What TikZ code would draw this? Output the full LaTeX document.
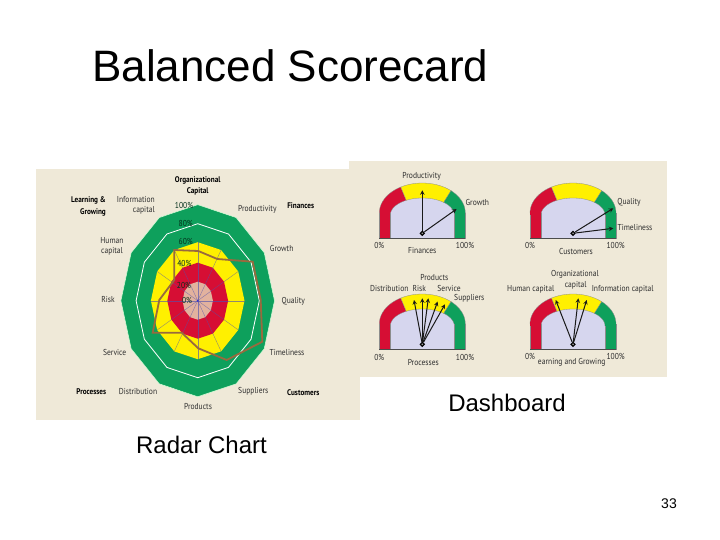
\documentclass[tikz,border=0pt]{standalone}
\usepackage{fontspec}
\setmainfont{Liberation Sans}
\newfontfamily\chartfont[FakeStretch=0.88]{PT Sans}
\usepackage{xcolor}
\usetikzlibrary{calc,positioning}

\definecolor{paper}{RGB}{239,233,216}
\definecolor{ringgreen}{RGB}{14,160,92}
\definecolor{ringyellow}{RGB}{255,240,0}
\definecolor{ringred}{RGB}{214,14,52}
\definecolor{ringpink}{RGB}{226,178,158}
\definecolor{dialblue}{RGB}{214,214,238}
\definecolor{scoreline}{RGB}{152,106,62}

% one ring of the radar, twelve corners
\newcommand{\radarring}[2]{\filldraw[#2] plot[samples at={0,30,...,330}] (\x:#1) -- cycle;}
% one stretch of a dial band
\newcommand{\dialband}[3]{\filldraw[#3, draw=black!45, line width=0.3pt] plot[domain=#1:#2,samples=14] ({43*cos(\x)},{-20.3-30*sin(\x)}) -- plot[domain=#2:#1,samples=14] ({32*cos(\x)},{-18.3-17*sin(\x)}) -- cycle;}

\begin{document}
\begin{tikzpicture}[>=stealth,x=1pt,y=-1pt]

    % Styles
    \tikzset{
        slidetext/.style={inner sep=0pt, font=\fontsize{24}{26}\selectfont},
        small/.style={inner sep=0pt, align=center, text=black!82, font=\chartfont\fontsize{8.6}{10}\selectfont},
        smallbold/.style={small, text=black, font=\chartfont\bfseries\fontsize{8.2}{11.5}\selectfont},
        percent/.style={small, text=black!70!ringgreen},
        needle/.style={->, line width=1pt, black!90},
        hub/.style={circle, draw=black, fill=black!40, line width=1.1pt, inner sep=1.4pt},
        spoke/.style={line width=0.4pt, blue!35!gray, opacity=0.65},
        score/.style={line width=1.8pt, scoreline, line join=miter}
    }

    % Background
    \useasboundingbox (0,0) rectangle (720,540);
    \fill[white] (0,0) rectangle (720,540);
    \fill[paper] (36,169) rectangle (360,420);
    \fill[paper] (349,161) rectangle (667,377);

    % Slide texts
    \node[slidetext, anchor=west, font=\fontsize{44}{48}\selectfont] (title) at (92,66) {Balanced Scorecard};
    \node[slidetext] (radarname) at (201.5,445) {Radar Chart};
    \node[slidetext] (dashname) at (507,403) {Dashboard};
    \node[slidetext, font=\fontsize{14}{16}\selectfont] (pageno) at (669,504) {33};

    % Radar rings
    \begin{scope}[shift={(197.7,300.7)},x=0.8pt,y=1pt]
        \radarring{96}{fill=ringgreen, draw=green!15!white, line width=0.5pt}
        \radarring{77}{fill=ringgreen, draw=white, line width=0.8pt}
        \radarring{58.5}{fill=ringyellow, draw=none}
        \radarring{38}{fill=ringred, draw=none}
        \radarring{19}{fill=ringpink, draw=none}
        \foreach \ang in {0,30,...,330}
            \draw[spoke] (0,0) -- (\ang:58.5);
        \fill[blue!60!gray] (0,0) circle (1.2);
    \end{scope}

    % Radar score line
    \draw[score] (174.3,250) -- (198.3,251) -- (217.3,259) -- (252.7,261.7) -- (260.7,300)
        -- (262.3,341.7) -- (226.7,360) -- (198.3,348.3) -- (181.7,332.7) -- (152.7,332.7)
        -- (159.3,300) -- (174.3,280) -- cycle;

    % Radar labels
    \node[smallbold] (orgcap) at (197.7,186) {Organizational\\Capital};
    \node[smallbold, align=right, anchor=east] (learn) at (106,206.5) {Learning \&\\Growing};
    \node[small, align=right, anchor=east] (infocap) at (155,205) {Information\\capital};
    \node[small] (humancap) at (112,246) {Human\\capital};
    \foreach \name/\px/\py/\txt in {
        pct100/184/205/100\%, pct80/185.7/223.3/80\%, pct60/185.7/241.7/60\%,
        pct40/184.3/263/40\%, pct20/184/285/20\%, pct0/187/300/0\%}
        \node[percent] (\name) at (\px,\py) {\txt};
    \foreach \name/\px/\py/\txt in {
        prod/257.3/209/Productivity, grow/281.7/248/Growth, qual/293.3/301/Quality,
        time/287/352.7/Timeliness, supp/253.3/391.3/Suppliers, goods/198/406.7/Products,
        dist/138/391.3/Distribution, serv/114.7/352.7/Service, risk/108/300/Risk}
        \node[small] (\name) at (\px,\py) {\txt};
    \foreach \name/\px/\py/\txt in {
        fin/300.7/205.7/Finances, cust/303.3/392.3/Customers, proc/91.3/391.3/Processes}
        \node[smallbold] (\name) at (\px,\py) {\txt};

    % Dials
    \foreach \name/\cx/\cy in {dialF/422.3/233.3, dialC/573/233.3, dialP/422.3/344.3, dialL/573/344.3} {
        \begin{scope}[shift={(\cx,\cy)}]
            \fill[dialblue] (-32,5) -- plot[domain=180:0,samples=30] ({32*cos(\x)},{-18.3-17*sin(\x)}) -- (32,5) -- cycle;
            \dialband{180}{120}{fill=ringred}
            \dialband{120}{48}{fill=ringyellow}
            \dialband{48}{0}{fill=ringgreen}
            \filldraw[fill=ringred, draw=black!45, line width=0.3pt] (-43,-20.3) rectangle (-32,5);
            \filldraw[fill=ringgreen, draw=black!45, line width=0.3pt] (32,-20.3) rectangle (43,5);
            \fill[ringred] (-42.8,-22) rectangle (-32.2,-18);
            \fill[ringgreen] (32.2,-22) rectangle (42.8,-18);
            \draw[black!70, line width=0.6pt] (-43,5) -- (43,5);
            \node[hub] (\name) at (0,0) {};
        \end{scope}
    }

    % Needle tips
    \coordinate (tipprod) at (422.3,190.3);
    \coordinate (tipgrow) at (456.6,209);
    \coordinate (tipqual) at (613.3,208.3);
    \coordinate (tiptime) at (613.3,228.3);
    \coordinate (tipdist) at (414,300);
    \coordinate (tiprisk) at (422.3,298.3);
    \coordinate (tipgoods) at (428.3,298.3);
    \coordinate (tipserv) at (437.6,301.6);
    \coordinate (tipsupp) at (445,304.3);
    \coordinate (tiphuman) at (555.7,300);
    \coordinate (tiporg) at (578.3,298.3);
    \coordinate (tipinfo) at (586.7,300);

    % Needles
    \foreach \hubname/\tipname in {dialF/tipprod, dialF/tipgrow, dialC/tipqual, dialC/tiptime,
        dialP/tipdist, dialP/tiprisk, dialP/tipgoods, dialP/tipserv, dialP/tipsupp,
        dialL/tiphuman, dialL/tiporg, dialL/tipinfo}
        \draw[needle] (\hubname) -- (\tipname);

    % Dial labels
    \foreach \name/\px/\py/\txt in {
        dprod/421.7/176.7/Productivity, dgrow/477.3/202.7/Growth, dzeroF/379.3/245.7/0\%,
        dfullF/465/245.7/100\%, dfin/422.3/251/Finances,
        dqual/629/202.7/Quality, dtime/635/227.7/Timeliness, dzeroC/530/245.7/0\%,
        dfullC/615.7/245/100\%, dcust/576/251/Customers,
        dgoods/434.3/277.7/Products, ddist/389.3/289/Distribution, drisk/419.3/289/Risk,
        dserv/449/288.3/Service, dsupp/469.3/298.3/Suppliers, dzeroP/379.3/357.3/0\%,
        dfullP/465/357.3/100\%, dproc/423.3/362.3/Processes,
        dorg/575/274.3/Organizational, dorgb/575.7/285.7/capital, dhuman/530.7/289.3/Human capital,
        dinfo/622.7/289.3/Information capital, dzeroL/530/356.7/0\%, dfullL/615.7/356.7/100\%,
        dlearn/571.7/362.7/earning and Growing}
        \node[small] (\name) at (\px,\py) {\txt};

\end{tikzpicture}
\end{document}
